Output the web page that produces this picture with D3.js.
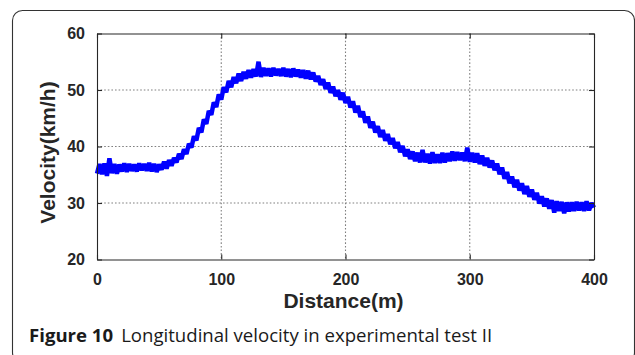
<!DOCTYPE html>
<html><head><meta charset="utf-8">
<script src="https://cdn.jsdelivr.net/npm/d3@7"></script>
<style>
html,body{margin:0;padding:0;background:#fff;}
svg{display:block;}
</style></head>
<body>
<script>
// Distance (m), sampled every 2 m
const distance = d3.range(0, 401, 2);
const velocity = [
35.2,36.9,35.1,37.0,34.8,37.9,35.3,36.9,35.2,36.8,
35.6,37.0,35.5,36.9,35.7,36.8,35.6,37.0,35.8,36.9,
35.7,37.1,35.6,36.9,35.5,36.8,35.9,37.3,36.1,37.6,
36.6,38.0,37.2,38.7,37.8,39.5,38.7,40.5,39.8,41.8,
41.1,43.3,42.5,44.8,44.0,46.3,45.6,47.8,47.0,49.2,
48.3,50.5,49.6,51.6,50.5,52.3,51.2,52.9,51.6,53.2,
52.0,53.5,52.2,53.7,52.4,55.0,52.3,53.9,52.5,53.8,
52.4,53.9,52.6,53.7,52.5,53.9,52.4,53.7,52.3,53.8,
52.4,53.6,52.2,53.5,52.0,53.4,51.9,53.1,51.5,52.5,
50.9,51.9,50.2,51.3,49.5,50.6,48.9,50.0,48.3,49.5,
47.7,48.8,46.9,48.0,46.0,47.2,45.2,46.2,44.2,45.3,
43.3,44.4,42.5,43.6,41.7,42.9,41.0,42.2,40.4,41.5,
39.7,40.8,39.0,40.1,38.3,39.5,37.8,39.1,37.4,38.9,
37.2,39.4,37.2,38.7,37.0,39.0,37.1,38.6,37.1,38.9,
37.2,38.8,37.4,39.1,37.5,39.0,37.6,38.9,37.4,39.8,
37.3,38.9,37.2,38.8,36.9,38.4,36.6,38.0,36.3,37.5,
35.8,37.0,35.1,36.3,34.3,35.5,33.5,34.7,32.8,34.1,
32.2,33.5,31.6,33.0,31.1,32.4,30.6,31.8,29.9,31.2,
29.4,30.8,29.0,30.5,28.3,30.3,28.6,30.2,28.2,30.1,
28.5,30.1,28.6,30.2,28.7,30.1,28.6,30.3,28.7,30.0,
29.2
];
const xTicks = [0, 100, 200, 300, 400];
const yTicks = [20, 30, 40, 50, 60];
const xTitle = "Distance(m)";
const yTitle = "Velocity(km/h)";
const captionBold = "Figure 10";
const captionText = "Longitudinal velocity in experimental test II";

const W = 635, H = 355;
const svg = d3.select("body").append("svg").attr("width", W).attr("height", H);

// outer rounded frame
svg.append("rect").attr("x", 12.5).attr("y", 10.5).attr("width", 622).attr("height", 352)
  .attr("rx", 10).attr("fill", "none").attr("stroke", "#333").attr("stroke-width", 1.1);

const L = 97, R = 594, T = 33.5, B = 259.5;
const x = d3.scaleLinear().domain([0, 400]).range([L, R]);
const y = d3.scaleLinear().domain([20, 60]).range([B, T]);

const axisColor = "#262626";
const g = svg.append("g");

// grid
g.selectAll(".gx").data(xTicks.slice(1, -1)).enter().append("line")
  .attr("x1", d => x(d)).attr("x2", d => x(d)).attr("y1", T).attr("y2", B)
  .attr("stroke", "#808080").attr("stroke-width", 1.1).attr("stroke-dasharray", "1.6,2");
g.selectAll(".gy").data(yTicks.slice(1, -1)).enter().append("line")
  .attr("y1", d => y(d)).attr("y2", d => y(d)).attr("x1", L).attr("x2", R)
  .attr("stroke", "#808080").attr("stroke-width", 1.1).attr("stroke-dasharray", "1.6,2");

// data line
const line = d3.line().x((d, i) => x(distance[i])).y(d => y(d));
g.append("path").datum(velocity).attr("d", line)
  .attr("fill", "none").attr("stroke", "#0000ff").attr("stroke-width", 4.5)
  .attr("stroke-linejoin", "bevel");

// axes (ticks inward)
const fontAx = "'Liberation Sans', Arial, sans-serif";
const xb = d3.axisBottom(x).tickValues(xTicks).tickSizeInner(-5).tickSizeOuter(0).tickPadding(14);
const xt = d3.axisTop(x).tickValues(xTicks).tickSizeInner(-5).tickSizeOuter(0).tickFormat("");
const yl = d3.axisLeft(y).tickValues(yTicks).tickSizeInner(-5).tickSizeOuter(0).tickPadding(12);
const yr = d3.axisRight(y).tickValues(yTicks).tickSizeInner(-5).tickSizeOuter(0).tickFormat("");

function style(sel) {
  sel.selectAll("path").attr("stroke", axisColor).attr("stroke-width", 1.1);
  sel.selectAll("line").attr("stroke", axisColor).attr("stroke-width", 1.1);
  sel.selectAll("text").attr("fill", "#262626").attr("font-family", fontAx)
    .attr("font-weight", "bold").attr("font-size", 16);
}
style(g.append("g").attr("transform", `translate(0,${B})`).call(xb));
style(g.append("g").attr("transform", `translate(0,${T})`).call(xt));
style(g.append("g").attr("transform", `translate(${L},0)`).call(yl));
style(g.append("g").attr("transform", `translate(${R},0)`).call(yr));

// titles
svg.append("text").attr("x", 343.5).attr("y", 308).attr("text-anchor", "middle")
  .attr("font-family", fontAx).attr("font-weight", "bold").attr("font-size", 21)
  .attr("fill", "#262626").text(xTitle);
svg.append("text").attr("transform", "translate(55,152.5) rotate(-90)").attr("text-anchor", "middle")
  .attr("font-family", fontAx).attr("font-weight", "bold").attr("font-size", 21)
  .attr("fill", "#262626").text(yTitle);

// caption
const cap = svg.append("text").attr("x", 29).attr("y", 341.5)
  .attr("font-family", "'Open Sans', 'Noto Sans', sans-serif").attr("font-size", 18.6).attr("fill", "#1a1a1a");
cap.append("tspan").attr("font-weight", "bold").text(captionBold);
cap.append("tspan").attr("dx", 8).text(captionText);
</script>
</body></html>
